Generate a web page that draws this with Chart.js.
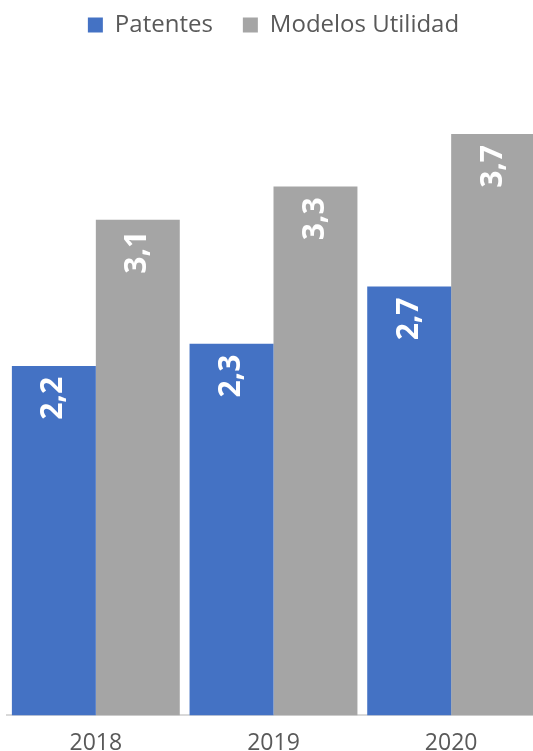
<!DOCTYPE html>
<html>
<head>
<meta charset="utf-8">
<script src="https://cdn.jsdelivr.net/npm/chart.js@4"></script>
<style>
  html, body { margin: 0; padding: 0; background: #fff; overflow: hidden; }
  #wrap { width: 541px; height: 751px; }
</style>
</head>
<body>
<div id="wrap"><canvas id="barChart" width="541" height="751"></canvas></div>
<script>
const years = ["2018", "2019", "2020"];
const patentes = [2.2, 2.34, 2.7];
const modelos = [3.12, 3.33, 3.66];
const seriesNames = ["Patentes", "Modelos Utilidad"];

const textGrey = '#595959';

// push the plot area down below the legend
const legendSpace = {
    id: 'legendSpace',
    beforeInit(chart) {
        const fit = chart.legend.fit;
        chart.legend.fit = function () {
            fit.bind(chart.legend)();
            this.height += 33;
        };
    }
};

// white value labels, rotated, at the top of each bar
const barLabels = {
    id: 'barLabels',
    afterDatasetsDraw(chart) {
        const ctx = chart.ctx;
        chart.data.datasets.forEach((ds, i) => {
            chart.getDatasetMeta(i).data.forEach((bar, j) => {
                const txt = ds.data[j].toFixed(1).replace('.', ',');
                ctx.save();
                ctx.translate(bar.x, bar.y + 11);
                ctx.rotate(-Math.PI / 2);
                ctx.fillStyle = '#ffffff';
                ctx.font = 'bold 30px "Open Sans"';
                ctx.textAlign = 'right';
                ctx.textBaseline = 'middle';
                ctx.fillText(txt, 0, 0);
                ctx.restore();
            });
        });
    }
};

var ctx = document.getElementById('barChart').getContext('2d');
var chart = new Chart(ctx, {
    type: 'bar',
    data: {
        labels: years,
        datasets: [{
            label: seriesNames[0],
            data: patentes,
            backgroundColor: '#4472C4',
            categoryPercentage: 0.945,
            barPercentage: 1
        }, {
            label: seriesNames[1],
            data: modelos,
            backgroundColor: '#A5A5A5',
            categoryPercentage: 0.945,
            barPercentage: 1
        }]
    },
    options: {
        responsive: false,
        animation: false,
        layout: {
            padding: { top: -17, left: 7, right: 1, bottom: -20 }
        },
        plugins: {
            legend: {
                position: 'top',
                labels: {
                    boxWidth: 15,
                    boxHeight: 15,
                    padding: 30,
                    color: textGrey,
                    font: { family: '"Open Sans"', size: 24 }
                }
            },
            tooltip: { enabled: false }
        },
        scales: {
            x: {
                grid: { display: false, drawTicks: false },
                border: { display: true, color: '#d9d9d9', width: 2 },
                ticks: {
                    color: textGrey,
                    padding: 14,
                    font: { family: '"Open Sans"', size: 23 }
                }
            },
            y: {
                display: false,
                min: 0,
                max: 4
            }
        }
    },
    plugins: [legendSpace, barLabels]
});
</script>
</body>
</html>
